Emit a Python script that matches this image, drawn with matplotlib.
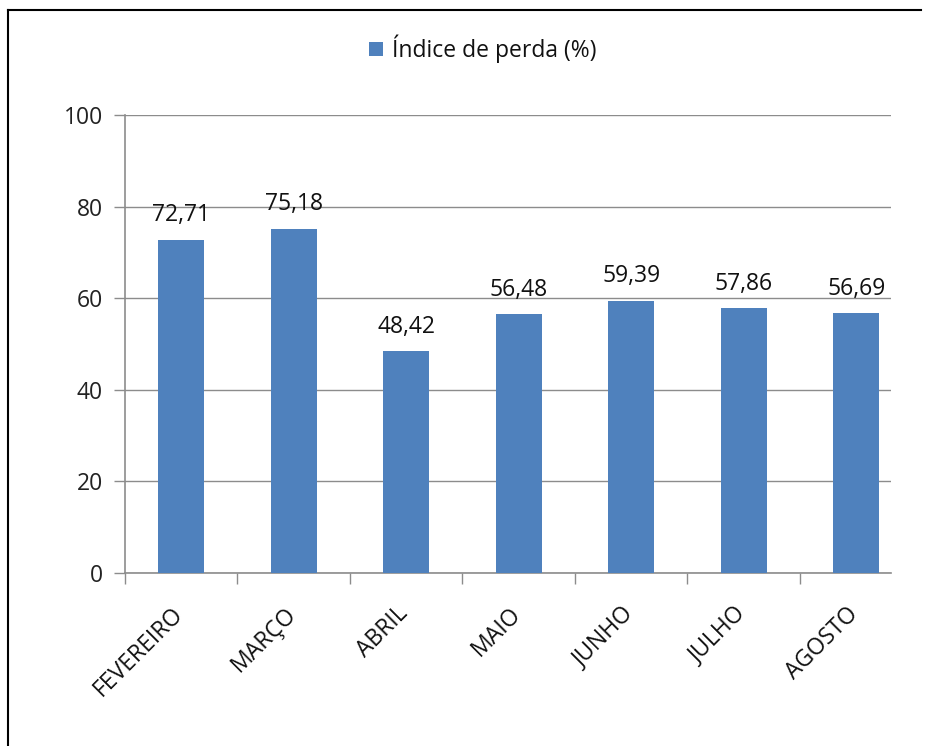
import matplotlib
matplotlib.use("Agg")
import matplotlib.pyplot as plt
from matplotlib.lines import Line2D
from matplotlib.patches import Rectangle

months = ["FEVEREIRO", "MARÇO", "ABRIL", "MAIO", "JUNHO", "JULHO", "AGOSTO"]
loss_index = [72.71, 75.18, 48.42, 56.48, 59.39, 57.86, 56.69]
value_labels = ["72,71", "75,18", "48,42", "56,48", "59,39", "57,86", "56,69"]
y_ticks = [0, 20, 40, 60, 80, 100]
series_name = "Índice de perda (%)"

plt.rcParams["font.family"] = ["Open Sans", "DejaVu Sans"]

W, H = 926, 746
fig = plt.figure(figsize=(W / 100, H / 100), dpi=100)
fig.patch.set_facecolor("white")

# plot area in pixel coordinates
x0, x1, y_top, y_bot = 125, 891, 115, 573
ax = fig.add_axes([x0 / W, 1 - y_bot / H, (x1 - x0) / W, (y_bot - y_top) / H])

bar_color = "#4F81BD"
grid_color = "#8C8C8C"
xs = list(range(len(months)))
ax.bar(xs, loss_index, width=0.41, color=bar_color, zorder=3)

# the category axis runs slightly past the last plotted edge
ax.set_xlim(-0.5, 6.31)
ax.set_ylim(0, 100)
ax.set_yticks(y_ticks)
ax.set_yticklabels([str(v) for v in y_ticks], fontsize=16.5, color="#222222")
ax.yaxis.grid(True, color=grid_color, linewidth=1.0, zorder=0)
ax.set_axisbelow(True)

for s in ["top", "right"]:
    ax.spines[s].set_visible(False)
for s in ["left", "bottom"]:
    ax.spines[s].set_color(grid_color)
    ax.spines[s].set_linewidth(1.2)

ax.tick_params(axis="y", length=8, width=1.0, color=grid_color, pad=8)
# category ticks at the boundaries between months
ax.set_xticks([i - 0.5 for i in range(len(months))])
ax.set_xticklabels([])
ax.tick_params(axis="x", length=8, width=1.0, color=grid_color)

for i, m in enumerate(months):
    ax.annotate(m, xy=(i, 0), xytext=(-1, -27), textcoords="offset points",
                rotation=45, ha="right", va="center", rotation_mode="anchor",
                fontsize=16.5, color="#111111", annotation_clip=False)

for i, (v, lab) in enumerate(zip(loss_index, value_labels)):
    ax.annotate(lab, xy=(i, v), xytext=(0, 9), textcoords="offset points",
                ha="center", va="bottom", fontsize=16.5, color="#111111")

# legend drawn above the plot area
fig.patches.append(Rectangle((369 / W, 1 - 56 / H), 14 / W, 14 / H,
                             transform=fig.transFigure, facecolor=bar_color,
                             edgecolor="none"))
fig.text(392 / W, 1 - 49 / H, series_name, fontsize=16.5, color="#111111",
         ha="left", va="center")

# outer frame (top and left edges)
fig.add_artist(Line2D([8 / W, 921 / W], [1 - 10 / H, 1 - 10 / H],
                      transform=fig.transFigure, color="black", linewidth=1.5))
fig.add_artist(Line2D([8 / W, 8 / W], [1 - 10 / H, 0],
                      transform=fig.transFigure, color="black", linewidth=1.5))

fig.savefig("out.png", dpi=100, facecolor="white")
